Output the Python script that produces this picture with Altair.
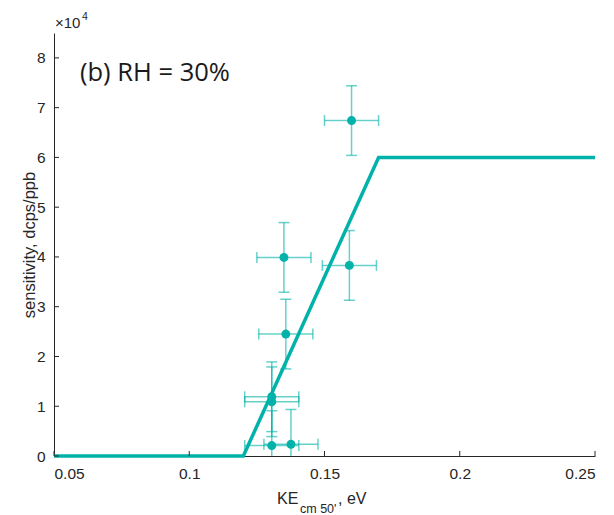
import altair as alt
import pandas as pd

# Measured sensitivity vs. centre-of-mass kinetic energy, RH = 30%
ke_ev = [0.1600, 0.1350, 0.1592, 0.1357, 0.1305, 0.1305, 0.1305, 0.1376]
sensitivity = [67400, 39900, 38300, 24500, 11900, 10900, 2100, 2350]
ke_err = [0.010, 0.010, 0.010, 0.010, 0.010, 0.010, 0.010, 0.010]
sens_err = [7000, 7000, 7000, 7000, 7000, 7000, 7000, 7000]

# Piecewise-linear fit: zero below threshold, ramp, then plateau
fit_ke = [0.05, 0.12, 0.17, 0.25]
fit_sens = [0, 0, 60000, 60000]

x_ticks = [0.05, 0.1, 0.15, 0.2, 0.25]
y_ticks = [0, 10000, 20000, 30000, 40000, 50000, 60000, 70000, 80000]

TEAL = "#00b2a9"
INK = "#262626"
W, H = 541, 423

pts = pd.DataFrame({"x": ke_ev, "y": sensitivity, "xe": ke_err, "ye": sens_err})
fit = pd.DataFrame({"x": fit_ke, "y": fit_sens})

xs = alt.Scale(domain=[0.05, 0.25], nice=False, zero=False)
ys = alt.Scale(domain=[0, 85000], nice=False)

x_axis = alt.Axis(values=x_ticks, format="~g", title=None, ticks=False, grid=False,
                  labelPadding=10)
y_axis = alt.Axis(values=y_ticks, labelExpr="format(datum.value / 10000, 'd')",
                  title="sensitivity, dcps/ppb", ticks=False, grid=False,
                  labelPadding=9, titleX=-25, titleY=H / 2, titleAngle=270,
                  titleAlign="center", titleBaseline="middle")

base = alt.Chart(pts).transform_calculate(
    x_lo="datum.x - datum.xe", x_hi="datum.x + datum.xe",
    y_lo="datum.y - datum.ye", y_hi="datum.y + datum.ye",
)

line = alt.Chart(fit).mark_line(color=TEAL, strokeWidth=3.5).encode(
    x=alt.X("x:Q", scale=xs, axis=x_axis),
    y=alt.Y("y:Q", scale=ys, axis=y_axis),
)

err_style = dict(color=TEAL, opacity=0.6, clip=True)
h_err = base.mark_rule(strokeWidth=1.5, **err_style).encode(
    x=alt.X("x_lo:Q", scale=xs), x2="x_hi:Q", y=alt.Y("y:Q", scale=ys))
v_err = base.mark_rule(strokeWidth=1.5, **err_style).encode(
    x=alt.X("x:Q", scale=xs), y=alt.Y("y_lo:Q", scale=ys), y2="y_hi:Q")
cap_l = base.mark_tick(orient="vertical", size=11, thickness=1.5, **err_style).encode(
    x=alt.X("x_lo:Q", scale=xs), y=alt.Y("y:Q", scale=ys))
cap_r = base.mark_tick(orient="vertical", size=11, thickness=1.5, **err_style).encode(
    x=alt.X("x_hi:Q", scale=xs), y=alt.Y("y:Q", scale=ys))
cap_b = base.mark_tick(orient="horizontal", size=11, thickness=1.5, **err_style).encode(
    x=alt.X("x:Q", scale=xs), y=alt.Y("y_lo:Q", scale=ys))
cap_t = base.mark_tick(orient="horizontal", size=11, thickness=1.5, **err_style).encode(
    x=alt.X("x:Q", scale=xs), y=alt.Y("y_hi:Q", scale=ys))

dots = base.mark_circle(size=80, color=TEAL, opacity=1).encode(
    x=alt.X("x:Q", scale=xs), y=alt.Y("y:Q", scale=ys))

# Inward tick marks on both axes
xt = alt.Chart(pd.DataFrame({"v": x_ticks})).mark_rule(color=INK, strokeWidth=1).encode(
    x=alt.X("v:Q", scale=xs), y=alt.value(H), y2=alt.value(H - 5))
yt = alt.Chart(pd.DataFrame({"v": y_ticks})).mark_rule(color=INK, strokeWidth=1).encode(
    y=alt.Y("v:Q", scale=ys), x=alt.value(0), x2=alt.value(5))

def label(text, x, y, size, font="Liberation Sans", color=INK, align="left"):
    return alt.Chart(pd.DataFrame({"t": [text]})).mark_text(
        font=font, fontSize=size, color=color, align=align, baseline="alphabetic"
    ).encode(text="t:N", x=alt.value(x), y=alt.value(y))

panel = label("(b) RH = 30%", 26, 48, 25.5, font="Open Sans", color="#1a1a1a")
mult = label("×10", 1, -5, 15)
mult_exp = label("4", 28, -13, 10.5)
xt_ke = label("KE", 223, 471, 16)
xt_sub = label("cm 50'", 246, 480, 12.5)
xt_ev = label(", eV", 284, 471, 16)

chart = alt.layer(
    line, h_err, v_err, cap_l, cap_r, cap_b, cap_t, dots, xt, yt,
    panel, mult, mult_exp, xt_ke, xt_sub, xt_ev,
).properties(
    width=W, height=H, autosize="none", background="white",
    padding={"left": 54, "top": 33, "right": 19, "bottom": 59},
).configure_view(stroke=None).configure_axis(
    domainColor=INK, domainWidth=1, labelColor=INK, labelFont="Liberation Sans",
    labelFontSize=15.5, titleFont="Liberation Sans", titleFontSize=16.5,
    titleFontWeight="normal", titleColor=INK,
)

chart.save("out.html", embed_options={"renderer": "svg", "actions": False})
